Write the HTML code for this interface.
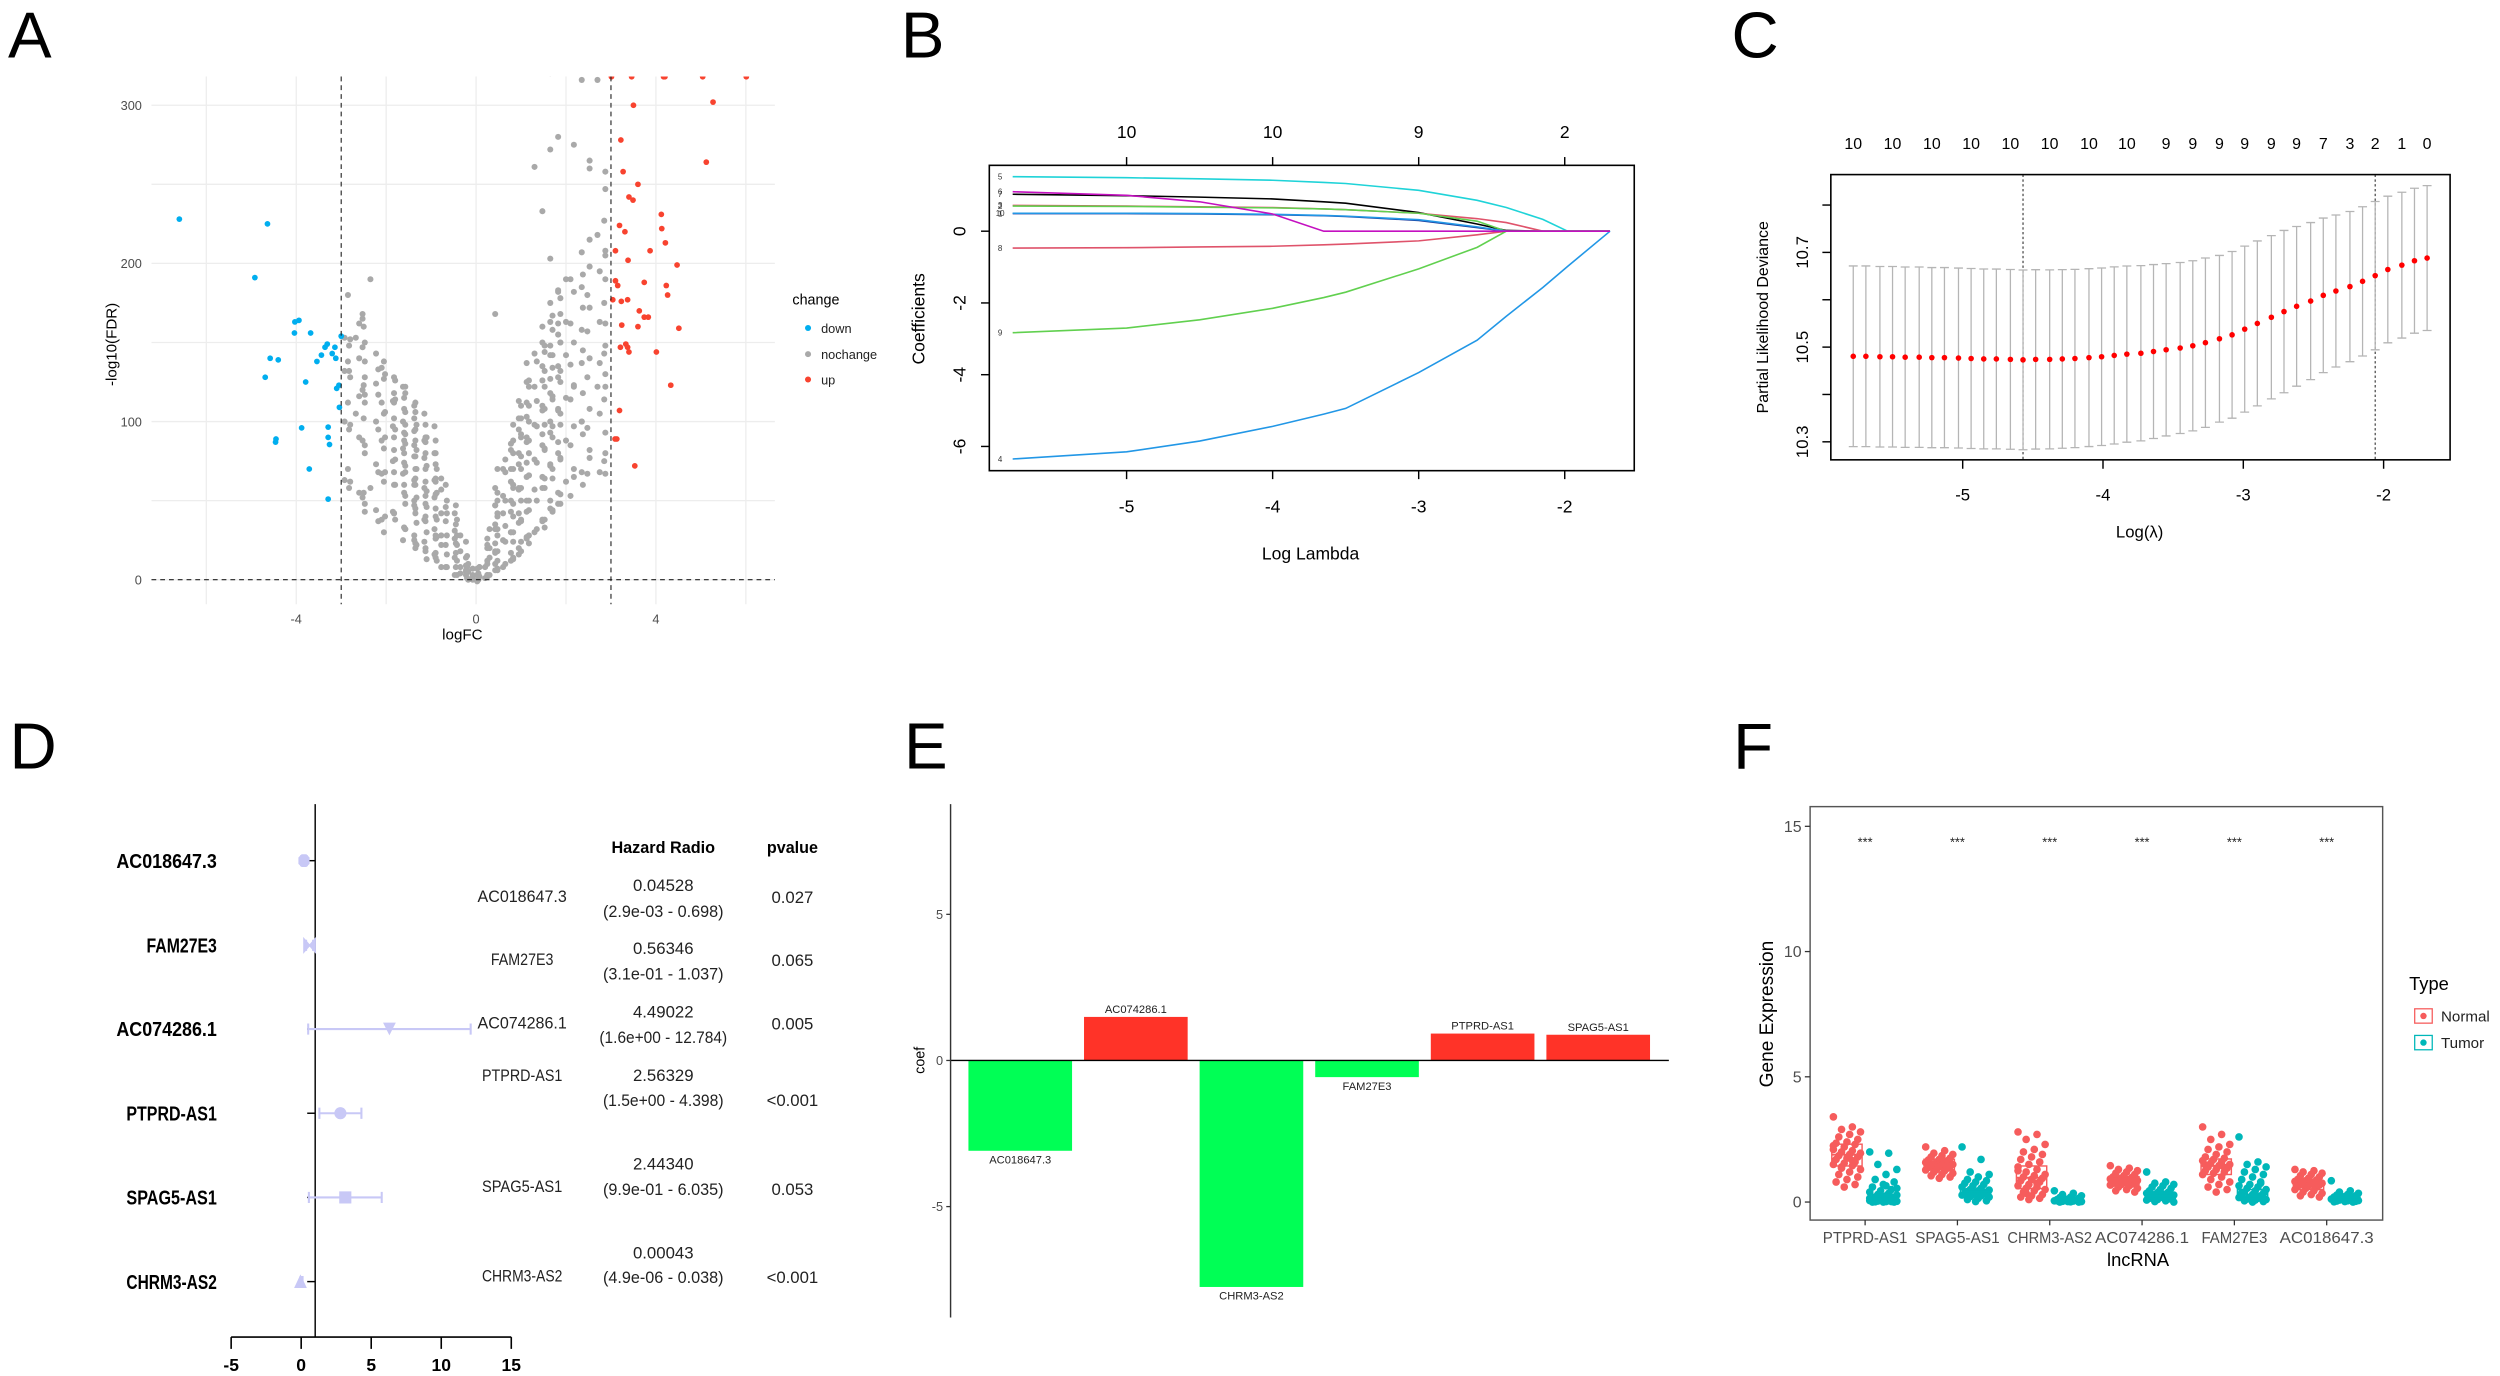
<!DOCTYPE html>
<html><head><meta charset="utf-8"><title>Figure</title>
<style>
html,body{margin:0;padding:0;background:#fff;}
svg{display:block;font-family:"Liberation Sans",Arial,sans-serif;}
</style></head>
<body>
<svg id="fig" width="2500" height="1376" viewBox="0 0 1568 863" preserveAspectRatio="none" xmlns="http://www.w3.org/2000/svg">
<defs><clipPath id="clipA"><rect x="95" y="48" width="391" height="331"/></clipPath></defs>
<rect x="0" y="0" width="1568" height="863" fill="#fff"/>
</svg>
<script>
// ---------- DATA ----------
// Panel A volcano
const downX=[-6.6,-4.64,-4.92,-4.03,-3.94,-4.04,-3.68,-3.0,-3.31,-3.36,-3.14,-3.44,-3.2,-3.12,-3.54,-4.58,-4.4,-4.69,-3.79,-3.1,-3.05,-3.04,-3.88,-3.29,-3.29,-4.45,-4.46,-3.26,-3.71,-3.29];
const downY=[228,225,191,163,164,156,156,154,149,147,147,142,143,140,138,140,139,128,125,121,123,109,96,96.5,90,89,87,85.5,70,51];
const upX=[3.01,3.46,4.17,4.2,5.04,6.01,5.27,3.5,3.22,5.12,3.27,3.6,3.4,3.49,4.12,3.19,4.13,3.31,4.21,3.1,3.87,3.38,4.47,3.1,3.15,3.74,4.23,4.26,3.04,3.23,3.37,3.63,3.74,3.83,3.24,3.6,4.51,3.21,3.33,3.37,3.4,4.01,4.33,3.19,3.09,3.13,3.53];
const upY=[318,318,318,318,318,318,302,300,278,264,258,250,242,240,231,224,222,220,213,208,208,202,199,189,186,188,186,180,177,176,177,170,166,166,161,160,159,147,149,147,144,144,123,107,89,89,72];
const grayCols=[
[-0.1,[2,5,8]],[-0.2,[1,4,10,15]],[-0.3,[3,8,14,22]],[-0.4,[5,12,20,30,38]],[-0.5,[8,15,25,35,45]],
[-0.6,[6,18,28,40,52]],[-0.7,[10,22,35,48,60]],[-0.8,[12,25,40,55,68]],[-0.9,[15,30,45,60,75,88]],
[-1.0,[18,32,50,65,80,95]],[-1.1,[20,38,55,70,85,100]],[-1.2,[22,40,58,75,90,105]],[-1.3,[25,45,62,80,95,110]],
[-1.4,[28,48,65,85,100]],[-1.5,[30,55,72,90,108,122]],[-1.6,[35,60,78,95,115]],[-1.7,[25,65,85,100,120]],
[-1.8,[40,70,90,110,130]],[-1.9,[45,75,95,115]],[-2.0,[30,60,85,105,125,140]],[-2.2,[35,70,95,115,135]],
[-2.4,[45,80,110,130,150]],[-2.5,[55,100,125,160]],[-2.6,[50,90,120,145,170,165]],[-2.8,[60,95,130,150]],
[-2.9,[70,110,140,180]],[-2.3,[188,60]],[-2.7,[155,105]],
[-0.15,[3,7]],[-0.35,[2,10,18,26]],[-0.55,[5,14,24,33,42]],[-0.75,[8,20,30,42,55,66]],[-0.95,[12,28,40,52,66,80]],
[-1.05,[15,30,44,58,72,88]],[-1.15,[18,35,50,62,78,92]],[-1.25,[20,38,52,68,84,98]],[-1.35,[22,42,58,72,88,104]],
[-1.45,[25,45,62,78,92,112]],[-1.55,[30,50,68,84,100,118]],[-1.65,[35,55,72,90,108]],[-1.75,[38,58,78,95,112,128]],
[-1.85,[40,62,82,100,120]],[-1.95,[42,68,88,108,130]],[-2.1,[38,65,90,112,132]],[-2.3,[42,75,100,122,145]],
[-2.45,[50,85,115,140]],[-2.65,[55,88,118,140,160]],[-2.75,[60,100,128,150]],[-2.95,[65,100,130,155]],
[0.0,[0,1,3,2,5]],[0.05,[1,2,4]],[-0.05,[1,3,5]],[0.1,[2,6,10]],[0.2,[1,5,12,18]],[0.3,[4,10,20,28]],[0.4,[6,15,25,35,45]],[0.5,[8,20,32,45,60,168]],
[0.6,[10,25,40,55,70]],[0.7,[12,28,45,62,80]],[0.8,[15,32,50,68,88]],[0.9,[18,36,55,75,95]],
[1.0,[20,40,60,80,100,115]],[1.1,[25,45,65,85,105,125]],[1.2,[28,50,72,92,112,135]],[1.3,[30,55,78,98,120,145,261]],
[1.4,[35,60,85,105,128,150]],[1.5,[40,65,90,112,135,158,235]],[1.6,[45,70,95,118,140,165,203,318]],[1.7,[48,75,100,125,150,175,270]],
[1.8,[50,80,105,130,155,180]],[1.9,[55,85,110,135,160,185,280]],[2.0,[60,90,115,140,165,190]],[2.1,[277,70,120]],
[2.2,[65,95,125,150,180]],[2.3,[205,318,100]],[2.4,[70,100,135,160,185]],[2.5,[215,80]],[2.6,[75,110,140,170,200,265,258]],
[2.7,[318,218,120]],[2.8,[80,120,150,190,245,207]],[2.9,[65,95,130,160,210,258]],
[0.15,[3,8]],[0.35,[3,12,22,32]],[0.45,[5,14,28,40,52]],[0.55,[8,18,30,42,55,68]],[0.65,[10,22,36,50,66,78]],
[0.75,[12,26,40,56,72,88]],[0.85,[15,30,46,62,80,96]],[0.95,[18,35,52,70,88,104]],[1.05,[22,40,58,76,94,110]],
[1.15,[25,44,64,82,100,120]],[1.25,[28,48,68,88,108,128]],[1.35,[30,52,74,95,115,138]],[1.45,[35,58,80,100,122,142]],
[1.55,[38,62,85,108,130,150]],[1.65,[42,66,90,112,136,158]],[1.75,[45,70,95,118,142,165]],[1.85,[48,75,100,125,148,170]],
[1.95,[52,78,105,130,152,178]],[2.1,[55,85,112,138,162,188]],[2.3,[60,90,120,145,170,195]],[2.5,[65,98,128,155,182]],
[2.7,[70,105,135,165,195]],[2.9,[75,112,145,175,225]]
];
// Panel B lasso paths
const lambdaB=[-5.78,-5,-4.5,-4,-3.65,-3.5,-3,-2.6,-2.4,-2.15,-1.98,-1.69];
const coef5=[1.52,1.49,1.46,1.42,1.36,1.33,1.14,0.86,0.66,0.33,0,0];
const coef6=[1.1,1.0,0.82,0.48,0,0,0,0,0,0,0,0];
const coef7=[1.03,0.99,0.95,0.9,0.82,0.78,0.52,0.2,0.02,0,0,0];
const coef3=[0.72,0.7,0.68,0.66,0.62,0.6,0.5,0.35,0.24,0,0,0];
const coef2=[0.7,0.69,0.67,0.65,0.62,0.6,0.5,0.28,0,0,0,0];
const coef10=[0.5,0.5,0.49,0.47,0.44,0.42,0.32,0.12,0,0,0,0];
const coef1=[0.49,0.49,0.48,0.46,0.43,0.41,0.3,0.1,0,0,0,0];
const coef8=[-0.47,-0.46,-0.44,-0.42,-0.38,-0.36,-0.27,-0.1,0,0,0,0];
const coef9=[-2.83,-2.7,-2.47,-2.15,-1.85,-1.7,-1.05,-0.45,0,0,0,0];
const coef4=[-6.35,-6.15,-5.85,-5.44,-5.1,-4.94,-3.94,-3.04,-2.37,-1.57,-0.98,0];
const bTopLabels=['10','10','9','2'];
// Panel C cross-validation
const lambdaC=[-5.78,-5.69,-5.59,-5.50,-5.41,-5.31,-5.22,-5.13,-5.03,-4.94,-4.85,-4.76,-4.66,-4.57,-4.48,-4.38,-4.29,-4.20,-4.10,-4.01,-3.92,-3.83,-3.73,-3.64,-3.55,-3.45,-3.36,-3.27,-3.17,-3.08,-2.99,-2.90,-2.80,-2.71,-2.62,-2.52,-2.43,-2.34,-2.24,-2.15,-2.06,-1.97,-1.87,-1.78,-1.69];
const cvm=[10.4806,10.4806,10.4796,10.4796,10.4787,10.4787,10.4778,10.4778,10.4769,10.4759,10.4750,10.4750,10.4741,10.4731,10.4741,10.4741,10.4750,10.4759,10.4778,10.4796,10.4824,10.4852,10.4870,10.4907,10.4944,10.4981,10.5028,10.5093,10.5176,10.5259,10.5380,10.5500,10.5630,10.5750,10.5861,10.5972,10.6093,10.6185,10.6278,10.6389,10.6509,10.6639,10.6731,10.6824,10.6880];
const cvsd=[0.1908,0.1908,0.1906,0.1906,0.1904,0.1904,0.1902,0.1902,0.1900,0.1900,0.1900,0.1898,0.1898,0.1898,0.1894,0.1890,0.1886,0.1882,0.1878,0.1874,0.1870,0.1860,0.1850,0.1836,0.1820,0.1806,0.1796,0.1788,0.1760,0.1760,0.1752,0.1742,0.1724,0.1714,0.1686,0.1658,0.1632,0.1604,0.1586,0.1576,0.1566,0.1548,0.1540,0.1530,0.1530];
const nzIdx=[0,3,6,9,12,15,18,21,24,26,28,30,32,34,36,38,40,42,44];
const nzLabels=['10','10','10','10','10','10','10','10','9','9','9','9','9','9','7','3','2','1','0'];
const lambdaMin=-4.57, lambda1se=-2.06;
// Panel D forest
const dGenes=['AC018647.3','FAM27E3','AC074286.1','PTPRD-AS1','SPAG5-AS1','CHRM3-AS2'];
const dPoint=[0.2,0.6,6.3,2.8,3.15,-0.05];
const dLow=[0.0,0.35,0.5,1.3,0.55,-0.05];
const dHigh=[0.4,0.85,12.1,4.3,5.75,0.1];
const dShapes=['hex','bowtie','tridown','circle','square','triup'];
const dHR=['0.04528','0.56346','4.49022','2.56329','2.44340','0.00043'];
const dCI=['(2.9e-03 - 0.698)','(3.1e-01 - 1.037)','(1.6e+00 - 12.784)','(1.5e+00 - 4.398)','(9.9e-01 - 6.035)','(4.9e-06 - 0.038)'];
const dP=['0.027','0.065','0.005','<0.001','0.053','<0.001'];
const dXTicks=[-5,0,5,10,15];
// Panel E coefficients
const eGenes=['AC018647.3','AC074286.1','CHRM3-AS2','FAM27E3','PTPRD-AS1','SPAG5-AS1'];
const eCoef=[-3.09,1.49,-7.75,-0.57,0.92,0.88];
const eTicks=[5,0,-5];
// Panel F expression
const fGenes=['PTPRD-AS1','SPAG5-AS1','CHRM3-AS2','AC074286.1','FAM27E3','AC018647.3'];
const fNormQ1=[1.44,1.29,0.54,0.71,1.10,0.50];
const fNormMed=[1.89,1.48,0.97,0.89,1.44,0.71];
const fNormQ3=[2.31,1.71,1.44,1.01,1.72,0.85];
const fTumQ1=[0.02,0.23,0.0,0.14,0.14,0.02];
const fTumMed=[0.16,0.33,0.05,0.27,0.30,0.10];
const fTumQ3=[0.31,0.50,0.10,0.37,0.50,0.19];
const fNormPts=[
[3.4,3.0,2.9,2.8,2.7,2.6,2.5,2.4,2.35,2.3,2.2,2.1,2.05,2.0,1.95,1.9,1.85,1.8,1.75,1.7,1.6,1.55,1.5,1.45,1.4,1.3,1.2,1.1,1.0,0.9,0.8,0.7,0.6,2.25,1.65,1.35],
[2.2,2.05,1.95,1.9,1.85,1.8,1.75,1.7,1.68,1.65,1.6,1.58,1.55,1.52,1.5,1.48,1.45,1.42,1.4,1.38,1.35,1.3,1.28,1.25,1.2,1.15,1.1,1.05,1.0,0.95],
[2.8,2.7,2.5,2.3,2.1,2.0,1.9,1.8,1.7,1.6,1.5,1.4,1.3,1.2,1.1,1.05,1.0,0.95,0.9,0.85,0.8,0.7,0.65,0.6,0.55,0.5,0.45,0.4,0.3,0.25,0.2,0.15,0.1,1.25,0.75,0.35],
[1.45,1.35,1.3,1.25,1.2,1.15,1.1,1.05,1.0,0.98,0.95,0.92,0.9,0.88,0.86,0.84,0.82,0.8,0.78,0.75,0.72,0.7,0.68,0.65,0.6,0.55,0.5,0.45,0.4],
[3.0,2.7,2.5,2.3,2.2,2.1,2.0,1.9,1.8,1.75,1.7,1.65,1.6,1.55,1.5,1.45,1.4,1.35,1.3,1.25,1.2,1.15,1.1,1.0,0.9,0.8,0.7,0.6,0.5,0.4,1.48,1.38],
[1.3,1.25,1.2,1.15,1.1,1.05,1.0,0.95,0.9,0.88,0.85,0.82,0.8,0.78,0.75,0.72,0.7,0.68,0.65,0.62,0.6,0.55,0.5,0.45,0.4,0.35,0.3,0.25,0.2]
];
const fTumPts=[
[2.0,1.95,1.5,1.3,1.1,0.9,0.8,0.7,0.6,0.5,0.45,0.4,0.35,0.3,0.28,0.25,0.2,0.18,0.15,0.12,0.1,0.08,0.06,0.05,0.04,0.03,0.02,0.01,0,0,0,0.02,0.1,0.15,0.2,0.3,0.55,0.65],
[2.2,1.7,1.2,1.1,1.0,0.9,0.85,0.8,0.75,0.7,0.65,0.6,0.55,0.5,0.48,0.45,0.42,0.4,0.38,0.35,0.32,0.3,0.28,0.25,0.22,0.2,0.15,0.1,0.05,0.02],
[0.45,0.35,0.3,0.25,0.2,0.18,0.15,0.12,0.1,0.08,0.06,0.05,0.04,0.03,0.02,0.01,0,0,0.02,0.05],
[1.2,0.8,0.75,0.7,0.65,0.6,0.55,0.5,0.45,0.4,0.38,0.35,0.32,0.3,0.28,0.25,0.22,0.2,0.18,0.15,0.12,0.1,0.08,0.05,0.02,0],
[2.6,1.6,1.5,1.4,1.3,1.2,1.1,1.0,0.9,0.8,0.7,0.65,0.6,0.55,0.5,0.45,0.4,0.35,0.3,0.28,0.25,0.2,0.18,0.15,0.12,0.1,0.08,0.05,0.02,0,0.38,0.75],
[0.85,0.45,0.4,0.35,0.3,0.28,0.25,0.22,0.2,0.18,0.15,0.12,0.1,0.08,0.06,0.05,0.04,0.03,0.02,0.01,0]
];
const fYTicks=[0,5,10,15];

// ---------- HELPERS ----------
const NS='http://www.w3.org/2000/svg';
const svg=document.getElementById('fig');
function mk(tag,attrs,parent){const e=document.createElementNS(NS,tag);for(const k in attrs)e.setAttribute(k,attrs[k]);(parent||svg).appendChild(e);return e;}
function txt(s,attrs,parent){const e=mk('text',attrs,parent);e.textContent=s;return e;}
function grp(name){const g=mk('g',{});return g;}

// ---------- PANEL LABELS ----------
const panelLabels=[['A',5,36],['B',565,36],['C',1086,36],['D',6,482],['E',567,482],['F',1087,482]];
panelLabels.forEach(p=>{const t=txt(p[0],{x:p[1],y:p[2],'font-size':41,fill:'#000'});

});

// ---------- PANEL A ----------
(function(){
const g=grp('panel-a-volcano');
const ax=x=>298.6+x*28.2, ay=y=>363.6-y*0.992;
[-6,-4,-2,0,2,4,6].forEach(v=>{const l=mk('line',{x1:ax(v),x2:ax(v),y1:48,y2:379,stroke:'#EDEDED','stroke-width':0.8},g);
});
[0,50,100,150,200,250,300].forEach(v=>{const l=mk('line',{x1:95,x2:486,y1:ay(v),y2:ay(v),stroke:'#EDEDED','stroke-width':0.8},g);
});
const pts=mk('g',{'clip-path':'url(#clipA)'},g);

grayCols.forEach((col,ci)=>{col[1].forEach((y,i)=>{const jx=(((i*7+ci*3)%7)-3)*0.025;
const c=mk('circle',{cx:ax(col[0]+jx),cy:ay(y+((i+ci)%3-1)*2),r:1.9,fill:'#A9A9A9'},pts);
});});
downX.forEach((x,i)=>{const c=mk('circle',{cx:ax(x),cy:ay(downY[i]),r:1.8,fill:'#00AEEF'},pts);
});
upX.forEach((x,i)=>{const c=mk('circle',{cx:ax(x),cy:ay(upY[i]),r:1.8,fill:'#F8432F'},pts);
});
[-3,3].forEach(v=>{const l=mk('line',{x1:ax(v),x2:ax(v),y1:48,y2:379,stroke:'#222','stroke-width':0.7,'stroke-dasharray':'3,2.5'},g);
});
const h=mk('line',{x1:95,x2:486,y1:ay(0),y2:ay(0),stroke:'#222','stroke-width':0.7,'stroke-dasharray':'3,2.5'},g);

[-4,0,4].forEach(v=>{const t=txt(String(v),{x:ax(v),y:391,'font-size':8,fill:'#4D4D4D','text-anchor':'middle'},g);
});
[0,100,200,300].forEach(v=>{const t=txt(String(v),{x:89,y:ay(v)+3,'font-size':8,fill:'#4D4D4D','text-anchor':'end'},g);
});
const xt=txt('logFC',{x:290,y:401,'font-size':9.5,fill:'#000','text-anchor':'middle'},g);

const yt=txt('-log10(FDR)',{x:0,y:0,'font-size':9.5,fill:'#000','text-anchor':'middle',transform:'translate(73,216) rotate(-90)'},g);

const lt=txt('change',{x:497,y:191,'font-size':9,fill:'#000'},g);

[['down','#00AEEF',205.7],['nochange','#A9A9A9',222.1],['up','#F8432F',238]].forEach(e=>{
const c=mk('circle',{cx:506.8,cy:e[2],r:1.9,fill:e[1]},g);

const t=txt(e[0],{x:515,y:e[2]+3,'font-size':8,fill:'#222'},g);
});
})();

// ---------- PANEL B ----------
(function(){
const g=grp('panel-b-lasso-paths');
const bx=l=>706.6+(l+5)*91.6, by=c=>145-c*22.5;
const series=[[coef5,'#1FD3D8','5'],[coef7,'#000000','7'],[coef3,'#DF536B','3'],[coef2,'#61D04F','2'],[coef1,'#1B3B9C','1'],[coef10,'#2297E6','10'],[coef8,'#DF536B','8'],[coef9,'#61D04F','9'],[coef4,'#2297E6','4'],[coef6,'#C410C0','6']];
series.forEach(s=>{const d=lambdaB.map((l,i)=>(i?'L':'M')+bx(l).toFixed(2)+','+by(s[0][i]).toFixed(2)).join(' ');
const p=mk('path',{d:d,fill:'none',stroke:s[1],'stroke-width':1},g);

const t=txt(s[2],{x:627.3,y:by(s[0][0])+1.8,'font-size':5,fill:'#333','text-anchor':'middle'},g);
});
const fr=mk('rect',{x:620.5,y:103.7,width:404.5,height:191.5,fill:'none',stroke:'#000','stroke-width':1},g);

[-5,-4,-3,-2].forEach((v,i)=>{
const t1=mk('line',{x1:bx(v),x2:bx(v),y1:295.2,y2:300.5,stroke:'#000','stroke-width':0.9},g);

const t2=mk('line',{x1:bx(v),x2:bx(v),y1:103.7,y2:98.5,stroke:'#000','stroke-width':0.9},g);

const l1=txt(String(v),{x:bx(v),y:321.5,'font-size':11,fill:'#000','text-anchor':'middle'},g);

const l2=txt(bTopLabels[i],{x:bx(v),y:86.5,'font-size':11,fill:'#000','text-anchor':'middle'},g);
});
[0,-2,-4,-6].forEach(v=>{
const t=mk('line',{x1:620.5,x2:615.3,y1:by(v),y2:by(v),stroke:'#000','stroke-width':0.9},g);

const l=txt(String(v),{x:0,y:0,'font-size':11,fill:'#000','text-anchor':'middle',transform:'translate(605.5,'+by(v)+') rotate(-90)'},g);
});
const xt=txt('Log Lambda',{x:822,y:351,'font-size':11,fill:'#000','text-anchor':'middle'},g);

const yt=txt('Coefficients',{x:0,y:0,'font-size':11,fill:'#000','text-anchor':'middle',transform:'translate(580,200) rotate(-90)'},g);

})();

// ---------- PANEL C ----------
(function(){
const g=grp('panel-c-cv-curve');
const cx=l=>1231+(l+5)*88, cy=v=>217.7-(v-10.5)*297;
[lambdaMin,lambda1se].forEach(v=>{const l=mk('line',{x1:cx(v),x2:cx(v),y1:109.5,y2:288.4,stroke:'#333','stroke-width':0.7,'stroke-dasharray':'1.5,1.5'},g);
});
lambdaC.forEach((l,i)=>{const x=cx(l),y1=cy(cvm[i]+cvsd[i]),y2=cy(cvm[i]-cvsd[i]);
const e=mk('path',{d:'M'+x+','+y1+'L'+x+','+y2+'M'+(x-2.8)+','+y1+'L'+(x+2.8)+','+y1+'M'+(x-2.8)+','+y2+'L'+(x+2.8)+','+y2,stroke:'#B5B5B5','stroke-width':0.8,fill:'none'},g);
});
lambdaC.forEach((l,i)=>{const c=mk('circle',{cx:cx(l),cy:cy(cvm[i]),r:1.75,fill:'#FF0000'},g);
});
const fr=mk('rect',{x:1148.3,y:109.5,width:388.4,height:178.9,fill:'none',stroke:'#000','stroke-width':1},g);

[-5,-4,-3,-2].forEach(v=>{
const t=mk('line',{x1:cx(v),x2:cx(v),y1:288.4,y2:294,stroke:'#000','stroke-width':0.9},g);

const l=txt(String(v),{x:cx(v),y:314,'font-size':10.5,fill:'#000','text-anchor':'middle'},g);
});
[10.3,10.4,10.5,10.6,10.7,10.8].forEach(v=>{
const t=mk('line',{x1:1148.3,x2:1143,y1:cy(v),y2:cy(v),stroke:'#000','stroke-width':0.9},g);
});
[10.3,10.5,10.7].forEach(v=>{
const l=txt(v.toFixed(1),{x:0,y:0,'font-size':10.5,fill:'#000','text-anchor':'middle',transform:'translate(1134,'+cy(v)+') rotate(-90)'},g);
});
nzIdx.forEach((idx,i)=>{const l=txt(nzLabels[i],{x:cx(lambdaC[idx]),y:93.5,'font-size':10,fill:'#000','text-anchor':'middle'},g);
});
const xt=txt('Log(λ)',{x:1342,y:337,'font-size':10.5,fill:'#000','text-anchor':'middle'},g);

const yt=txt('Partial Likelihood Deviance',{x:0,y:0,'font-size':10,fill:'#000','text-anchor':'middle',transform:'translate(1109,199) rotate(-90)'},g);

})();

// ---------- PANEL D ----------
(function(){
const g=grp('panel-d-forest');
const dx=v=>188.9+v*8.785;
const rowY=[539.8,592.9,645.4,698.2,751,803.8];
const col='#C8C8F6';
const ax=mk('line',{x1:dx(1),x2:dx(1),y1:504.3,y2:838.6,stroke:'#000','stroke-width':0.9},g);

const bx=mk('line',{x1:dx(-5),x2:dx(15),y1:838.6,y2:838.6,stroke:'#000','stroke-width':1},g);

dXTicks.forEach(v=>{const t=mk('line',{x1:dx(v),x2:dx(v),y1:838.6,y2:846,stroke:'#000','stroke-width':1},g);

const l=txt(String(v),{x:dx(v),y:860,'font-size':11,'font-weight':'bold',fill:'#000','text-anchor':'middle'},g);
});
dGenes.forEach((name,i)=>{const y=rowY[i];
const tk=mk('line',{x1:dx(1)-5,x2:dx(1),y1:y,y2:y,stroke:'#000','stroke-width':0.9},g);

const ci=mk('path',{d:'M'+dx(dLow[i])+','+y+'L'+dx(dHigh[i])+','+y+'M'+dx(dLow[i])+','+(y-3.5)+'L'+dx(dLow[i])+','+(y+3.5)+'M'+dx(dHigh[i])+','+(y-3.5)+'L'+dx(dHigh[i])+','+(y+3.5),stroke:col,'stroke-width':1.3,fill:'none'},g);

const x=dx(dPoint[i]);let m;const s=dShapes[i];
if(s==='hex')m=mk('path',{d:`M${x-3.5},${y-2}L${x-1.5},${y-4}L${x+1.5},${y-4}L${x+3.5},${y-2}L${x+3.5},${y+2}L${x+1.5},${y+4}L${x-1.5},${y+4}L${x-3.5},${y+2}Z`,fill:col},g);
else if(s==='bowtie')m=mk('path',{d:`M${x-3.5},${y-4}L${x},${y}L${x-3.5},${y+4}ZM${x+3.5},${y-4}L${x},${y}L${x+3.5},${y+4}Z`,fill:col,stroke:col},g);
else if(s==='tridown')m=mk('path',{d:`M${x-4},${y-4}L${x+4},${y-4}L${x},${y+4}Z`,fill:col},g);
else if(s==='circle')m=mk('circle',{cx:x,cy:y,r:3.8,fill:col},g);
else if(s==='square')m=mk('rect',{x:x-3.8,y:y-3.8,width:7.6,height:7.6,fill:col},g);
else m=mk('path',{d:`M${x-4},${y+4}L${x+4},${y+4}L${x},${y-4.5}Z`,fill:col},g);

const lb=txt(name,{x:136,y:y+4.5,'font-size':12.5,'font-weight':'bold',fill:'#000','text-anchor':'end',textLength:name.length*6.3,lengthAdjust:'spacingAndGlyphs'},g);
});
const th=txt('Hazard Radio',{x:416,y:535,'font-size':10.5,'font-weight':'bold',fill:'#000','text-anchor':'middle',textLength:65,lengthAdjust:'spacingAndGlyphs'},g);

const tp=txt('pvalue',{x:497,y:535,'font-size':10.5,'font-weight':'bold',fill:'#000','text-anchor':'middle',textLength:32,lengthAdjust:'spacingAndGlyphs'},g);

const tName=[562.2,601.6,641.6,674.4,744.2,800.3], tHR=[555.4,594.9,634.8,674.4,730,785.8], tCI=[571.5,610.8,650.6,690.3,746.1,801.1], tP=[562.8,602.3,642.1,690.3,746.1,801.1];
dGenes.forEach((name,i)=>{
const a=txt(name,{x:327.5,y:tName[i]+3.5,'font-size':10.5,fill:'#222','text-anchor':'middle',textLength:name.length*5.6,lengthAdjust:'spacingAndGlyphs'},g);

const b=txt(dHR[i],{x:416,y:tHR[i]+3.5,'font-size':10.5,fill:'#222','text-anchor':'middle',textLength:38,lengthAdjust:'spacingAndGlyphs'},g);

const c=txt(dCI[i],{x:416,y:tCI[i]+3.5,'font-size':10.5,fill:'#222','text-anchor':'middle',textLength:dCI[i].length*4.45,lengthAdjust:'spacingAndGlyphs'},g);

const d=txt(dP[i],{x:497,y:tP[i]+3.5,'font-size':10.5,fill:'#222','text-anchor':'middle'},g);
});
})();

// ---------- PANEL E ----------
(function(){
const g=grp('panel-e-coef-bars');
const ey=v=>665.1-v*18.33, ex=i=>639.9+i*72.5;
eGenes.forEach((name,i)=>{const v=eCoef[i];const y0=ey(0),y1=ey(v);
const r=mk('rect',{x:ex(i)-32.5,y:Math.min(y0,y1),width:65,height:Math.abs(y1-y0),fill:v<0?'#00FF55':'#FF3328'},g);

const t=txt(name,{x:ex(i),y:v<0?y1+8:y1-2.5,'font-size':7,fill:'#222','text-anchor':'middle'},g);
});
const z=mk('line',{x1:596.2,x2:1046.7,y1:ey(0),y2:ey(0),stroke:'#000','stroke-width':0.9},g);

const a=mk('line',{x1:596.2,x2:596.2,y1:504.3,y2:826.3,stroke:'#333','stroke-width':0.9},g);

eTicks.forEach(v=>{const t=mk('line',{x1:593.5,x2:596.2,y1:ey(v),y2:ey(v),stroke:'#333','stroke-width':0.8},g);

const l=txt(String(v),{x:591.5,y:ey(v)+2.8,'font-size':8,fill:'#4D4D4D','text-anchor':'end'},g);
});
const yt=txt('coef',{x:0,y:0,'font-size':9,fill:'#000','text-anchor':'middle',transform:'translate(580,665) rotate(-90)'},g);

})();

// ---------- PANEL F ----------
(function(){
const g=grp('panel-f-expression');
const fy=v=>753.9-v*15.71, fx=i=>1169.8+i*57.9;
const nCol='#F65C5C', tCol='#00B7B9';
const fr=mk('rect',{x:1135.3,y:505.9,width:359.1,height:259.3,fill:'#fff',stroke:'#555','stroke-width':0.9},g);

function box(cx,q1,md,q3,colr,name){
const r=mk('rect',{x:cx-9.5,y:fy(q3),width:19,height:Math.max(1,fy(q1)-fy(q3)),fill:'none',stroke:colr,'stroke-width':0.9},g);

const m=mk('line',{x1:cx-9.5,x2:cx+9.5,y1:fy(md),y2:fy(md),stroke:colr,'stroke-width':1.2},g);
}
fGenes.forEach((name,i)=>{const cN=fx(i)-11.4,cT=fx(i)+11.4;
fNormPts[i].forEach((v,k)=>{const j=(((k*7)%11)/10-0.5)*17;
const c=mk('circle',{cx:cN+j,cy:fy(v),r:2.4,fill:nCol},g);
});
fTumPts[i].forEach((v,k)=>{const j=(((k*7)%11)/10-0.5)*17;
const c=mk('circle',{cx:cT+j,cy:fy(v),r:2.4,fill:tCol},g);
});
box(cN,fNormQ1[i],fNormMed[i],fNormQ3[i],nCol,'f-box-normal-'+name);
box(cT,fTumQ1[i],fTumMed[i],fTumQ3[i],tCol,'f-box-tumor-'+name);
const s=txt('***',{x:fx(i),y:531,'font-size':8,fill:'#222','text-anchor':'middle'},g);

const tk=mk('line',{x1:fx(i),x2:fx(i),y1:765.2,y2:768.5,stroke:'#333','stroke-width':0.8},g);

const l=txt(name,{x:fx(i),y:779.5,'font-size':10,fill:'#4D4D4D','text-anchor':'middle',textLength:name.length*5.9,lengthAdjust:'spacingAndGlyphs'},g);
});
fYTicks.forEach(v=>{const t=mk('line',{x1:1132,x2:1135.3,y1:fy(v),y2:fy(v),stroke:'#333','stroke-width':0.8},g);

const l=txt(String(v),{x:1130,y:fy(v)+3.5,'font-size':10,fill:'#4D4D4D','text-anchor':'end'},g);
});
const xt=txt('lncRNA',{x:1341,y:794,'font-size':11.5,fill:'#000','text-anchor':'middle'},g);

const yt=txt('Gene Expression',{x:0,y:0,'font-size':12,fill:'#000','text-anchor':'middle',transform:'translate(1112,636) rotate(-90)'},g);

const lt=txt('Type',{x:1511,y:621,'font-size':11.5,fill:'#000'},g);

[['Normal',nCol,637.2],['Tumor',tCol,653.9]].forEach(e=>{
const k=mk('rect',{x:1514.5,y:e[2]-4.5,width:11,height:9,fill:'none',stroke:e[1],'stroke-width':0.8},g);

const d=mk('circle',{cx:1520,cy:e[2],r:2,fill:e[1]},g);

const t=txt(e[0],{x:1531,y:e[2]+3.5,'font-size':9.5,fill:'#222'},g);
});
})();
</script>
</body></html>
